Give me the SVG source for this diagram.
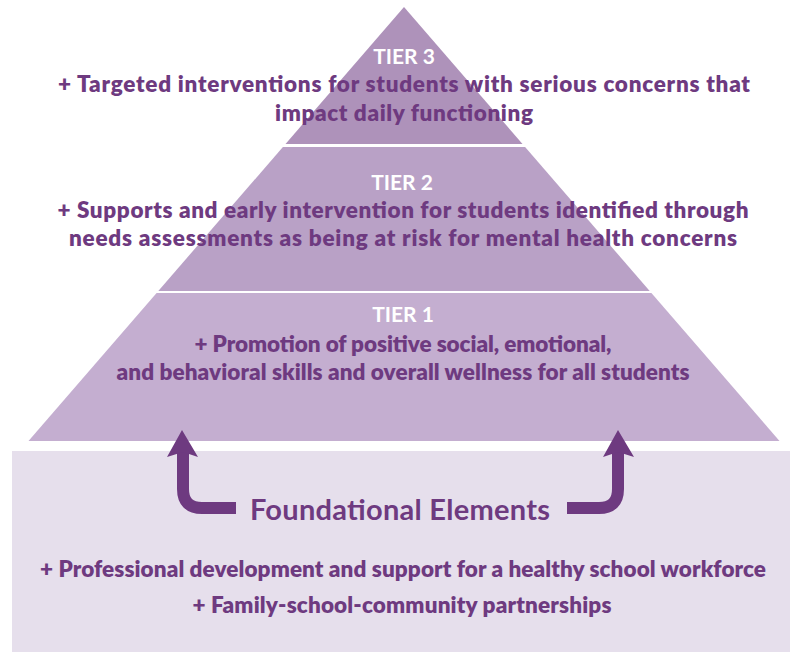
<svg xmlns="http://www.w3.org/2000/svg" width="790" height="655" viewBox="0 0 790 655">
<style>
text{font-family:Lato,"Open Sans","Liberation Sans",sans-serif;font-weight:700;text-anchor:middle}
.t{fill:#ffffff;font-size:21px}
.b{fill:#6e3a80;font-size:22.5px;font-weight:800}
.f{fill:#6e3a80;font-size:29px}
.arrow{fill:none;stroke:#6e3a80;stroke-width:12}
.head{fill:#6e3a80}
</style>
<rect width="790" height="655" fill="#ffffff"/>
<g id="foundation">
<rect x="12" y="451" width="778" height="201" fill="#e6dfec"/>
<text class="f" x="400" y="520" textLength="300">Foundational Elements</text>
<text class="b" x="403" y="577" textLength="726">+ Professional development and support for a healthy school workforce</text>
<text class="b" x="402" y="613" textLength="419">+ Family-school-community partnerships</text>
</g>
<g id="tier1">
<polygon points="156.6,293 651.4,293 779.5,441 28.5,441" fill="#c4aed0"/>
<text class="t" x="403" y="322">TIER 1</text>
<text class="b" x="403" y="352" textLength="417">+ Promotion of positive social, emotional,</text>
<text class="b" x="403" y="380" textLength="573">and behavioral skills and overall wellness for all students</text>
</g>
<g id="tier2">
<polygon points="282.9,147 525.1,147 649.7,291 158.3,291" fill="#b9a1c6"/>
<text class="t" x="402" y="190">TIER 2</text>
<text class="b" x="403" y="218" textLength="691">+ Supports and early intervention for students identified through</text>
<text class="b" x="403" y="246" textLength="668">needs assessments as being at risk for mental health concerns</text>
</g>
<g id="tier3">
<polygon points="404,7 522.5,144 285.5,144" fill="#ae92ba"/>
<text class="t" x="404" y="64">TIER 3</text>
<text class="b" x="404" y="92" textLength="692">+ Targeted interventions for students with serious concerns  that</text>
<text class="b" x="404" y="121" textLength="258">impact daily functioning</text>
</g>
<g id="connectors">
<path class="arrow" d="M183,452 L183,489 Q183,508 202,508 L236,508"/>
<polygon class="head" points="182,430 198,457 183,452 167,457"/>
<path class="arrow" d="M567,508 L599,508 Q618,508 618,489 L618,452"/>
<polygon class="head" points="618,430 634,457 618,452 603,457"/>
</g>
</svg>
